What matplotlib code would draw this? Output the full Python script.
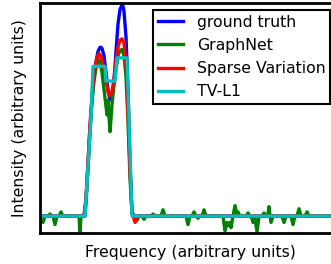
import matplotlib
matplotlib.use("Agg")
import matplotlib.pyplot as plt

# ground truth
gt_x = [0, 44, 46, 48, 50, 52, 54, 56, 58, 60, 61, 62, 64, 66, 68, 70, 72, 74, 76, 78, 80, 82, 83, 84, 86, 88, 90, 92, 94, 300]
gt_y = [0, 0, 0.08, 0.25, 0.42, 0.56, 0.66, 0.73, 0.78, 0.80, 0.80, 0.795, 0.76, 0.68, 0.60, 0.55, 0.56, 0.64, 0.78, 0.91, 0.98, 1.0, 0.995, 0.97, 0.85, 0.60, 0.25, 0.02, 0, 0]

# GraphNet
gn_x = [0, 1, 3, 5,
        8, 10, 12,
        13, 15, 17,
        19, 21, 23,
        37, 39, 40, 41, 43, 45,
        46, 48, 50, 52, 54, 56, 58, 59, 60, 62, 64, 66, 67, 68, 69, 70, 71, 72, 74, 76, 78, 80, 82, 84, 86, 88, 90, 92,
        95, 97, 99,
        102, 104, 106,
        111, 113, 115,
        121, 123, 125,
        146, 148, 150,
        152, 154, 156,
        158,
        160, 162, 164, 166,
        183, 185, 187, 188, 190, 191, 193, 195, 197, 198, 200,
        206, 208, 210,
        212, 213, 215, 217, 219,
        222, 224, 226,
        228, 229, 230, 231, 233,
        242, 244, 246,
        251, 253, 255,
        257, 259, 261,
        265, 267, 269,
        300]
gn_y = [0, -0.02, -0.03, 0,
        0, 0.01, 0,
        0, -0.04, 0,
        0, 0.02, 0,
        0, 0, -0.08, 0, 0, 0,
        0.06, 0.22, 0.40, 0.54, 0.64, 0.70, 0.735, 0.74, 0.73, 0.68, 0.60, 0.52, 0.48, 0.55, 0.47, 0.40, 0.46, 0.53, 0.62, 0.70, 0.76, 0.785, 0.79, 0.76, 0.66, 0.45, 0.18, 0.01,
        0, -0.02, 0,
        0, -0.015, 0,
        0, 0.01, 0,
        0, 0.03, 0,
        0, -0.04, 0,
        0, 0.02, 0,
        -0.01,
        0, 0, 0.03, 0,
        0, -0.07, -0.03, -0.045, -0.03, -0.055, 0, 0.05, 0, 0.02, 0,
        0, 0.015, 0,
        -0.01, -0.03, -0.01, -0.075, 0,
        0, 0.015, 0,
        0.01, 0.045, 0, -0.03, 0,
        0, -0.03, 0,
        0, -0.04, 0,
        0, 0.035, 0,
        0, 0.02, 0,
        0]

# Sparse Variation
sv_x = [0, 44, 46, 48, 50, 52, 54, 56, 58, 59, 60, 62, 64, 66, 68, 70, 72, 74, 76, 78, 80, 82, 84, 86, 88, 90, 92, 95, 98, 300]
sv_y = [0, 0, 0.08, 0.26, 0.43, 0.57, 0.67, 0.73, 0.765, 0.77, 0.765, 0.74, 0.70, 0.64, 0.59, 0.57, 0.59, 0.65, 0.74, 0.80, 0.835, 0.84, 0.82, 0.72, 0.50, 0.22, 0.02, -0.03, 0, 0]

# TV-L1
tv_x = [0, 45, 51, 53, 65, 66, 75, 77, 87, 92, 300]
tv_y = [0, 0, 0.47, 0.71, 0.71, 0.64, 0.64, 0.75, 0.75, 0, 0]

labels = ["ground truth", "GraphNet", "Sparse Variation", "TV-L1"]

fig = plt.figure(figsize=(3.31, 2.64), dpi=100)
ax = fig.add_axes([40/331, 31/264, 300/331, 230/264])
lw = 2.4
ax.plot(gt_x, gt_y, color=(0, 0, 1), lw=lw, label=labels[0])
ax.plot(gn_x, gn_y, color=(0, 0.5, 0), lw=lw, label=labels[1])
ax.plot(sv_x, sv_y, color=(1, 0, 0), lw=lw, label=labels[2])
ax.plot(tv_x, tv_y, color=(0, 0.75, 0.75), lw=lw, label=labels[3])
ax.set_xlim(0, 300)
ax.set_ylim(-0.08, 1.01)
ax.set_xticks([])
ax.set_yticks([])
for s in ax.spines.values():
    s.set_linewidth(2.0)
    s.set_color("black")
ax.set_xlabel("Frequency (arbitrary units)", fontsize=11.3, labelpad=9)
ax.set_ylabel("Intensity (arbitrary units)", fontsize=11.3, labelpad=9)
leg = ax.legend(loc="upper left", bbox_to_anchor=(153/331, 1 - 10/264), bbox_transform=fig.transFigure,
                fontsize=11.3, frameon=True, fancybox=False, framealpha=1, edgecolor="black",
                handlelength=1.6, handletextpad=0.9, borderaxespad=0, borderpad=0.3,
                labelspacing=0.52)
leg.get_frame().set_linewidth(1.5)
fig.savefig("out.png", dpi=100)
